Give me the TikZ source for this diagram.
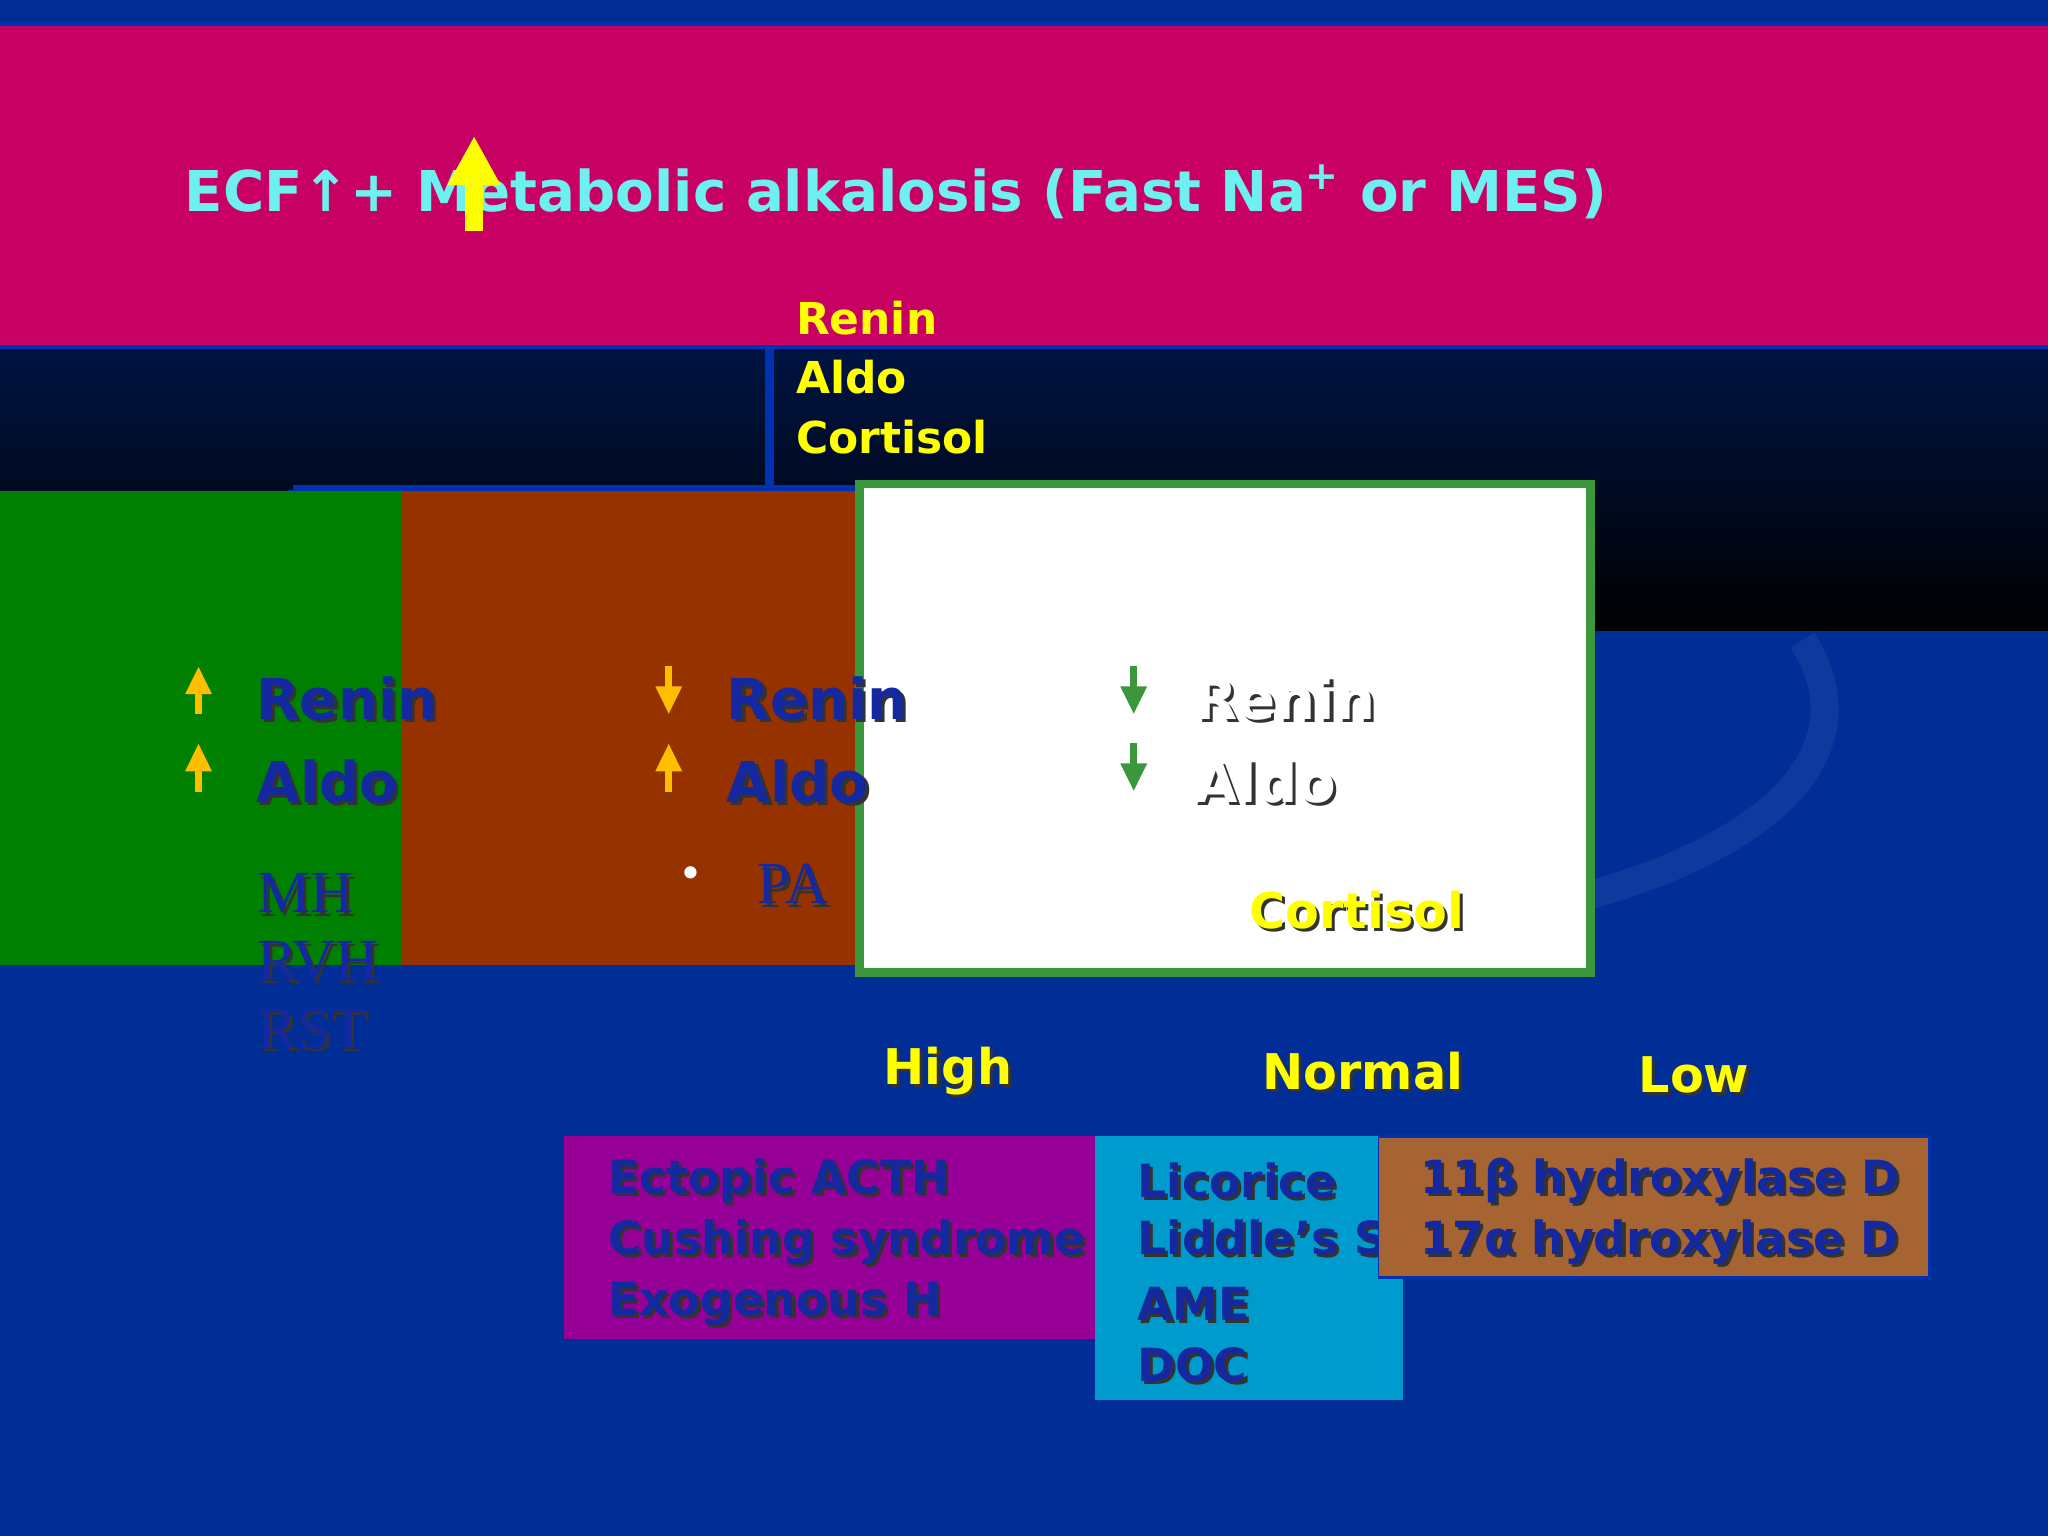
\documentclass[tikz,border=0pt]{standalone}
\usepackage{fontspec}
\usetikzlibrary{arrows.meta}
\setmainfont{DejaVu Sans}
\newfontfamily\serf{Liberation Serif}
\definecolor{bgblue}{RGB}{0,45,150}
\definecolor{lineblue}{RGB}{0,50,175}
\definecolor{ttl}{RGB}{200,0,100}
\definecolor{cyantxt}{RGB}{110,240,240}
\definecolor{ylw}{RGB}{255,255,0}
\definecolor{dkblue}{RGB}{20,40,160}
\definecolor{grn}{RGB}{0,128,0}
\definecolor{brn}{RGB}{150,50,0}
\definecolor{wgrn}{RGB}{60,150,60}
\definecolor{prp}{RGB}{150,0,150}
\definecolor{cyb}{RGB}{0,155,205}
\definecolor{tan}{RGB}{165,100,50}
\definecolor{arr}{RGB}{255,190,0}
\newcommand{\shtext}[5]{% name, pos, color, font, text
 \node[anchor=west,text=black!80,xshift=0.9pt,yshift=-0.9pt] at (#2) {#4 #5};
 \node[anchor=west,text=#3] (#1) at (#2) {#4 #5};}
\tikzset{ln/.style={draw=lineblue,line width=2.5pt},
 bx/.style={inner sep=0pt}}
\begin{document}
\begin{tikzpicture}[x=0.013061cm,y=-0.013061cm]
\useasboundingbox (0,0) rectangle (1568,1176);
\shade[top color=bgblue,bottom color=black] (0,0) rectangle (1568,483);
\fill[bgblue] (0,483) rectangle (1568,1176);
\draw[bgblue!80!white,line width=8pt,opacity=0.3] (1380,490) .. controls (1450,600) and (1300,700) .. (1000,720);
% lines
\coordinate (t) at (589,188); \coordinate (j) at (589,375);
\coordinate (jl) at (224,375); \coordinate (jr) at (937,375);
\draw[ln] (t) -- (589,490);
\draw[ln] (jl) -- (jr);
\draw[ln] (jl) -- (224,490);
\draw[ln] (jr) -- (937,490);
% title
\node[draw=lineblue,fill=ttl,minimum width=1312,minimum height=92,line width=1pt] (title) at (774,142) {};
\node[anchor=west,text=cyantxt,font=\bfseries\fontsize{16}{18}\selectfont] at (132,147) {ECF↑+ Metabolic alkalosis (Fast Na\textsuperscript{+} or MES)};
\draw[ylw,line width=5pt,-{Triangle[width=14pt,length=14pt]}] (363,177) -- (363,104);
% renin aldo cortisol
\node[anchor=west,text=ylw,font=\bfseries\fontsize{12.5}{14}\selectfont,align=left] (rac) at (600,289) {Renin\\[3pt]Aldo\\[3pt]Cortisol};
% boxes
\node[fill=grn,minimum width=203,minimum height=135,bx] (g) at (221.5,557.5) {};
\node[fill=brn,minimum width=204,minimum height=135,bx] (b) at (582,557.5) {};
\node[fill=white,draw=wgrn,line width=2.5pt,minimum width=208,minimum height=139,bx] (w) at (938,557.5) {};
\tikzset{ua/.style={line width=2pt,-{Triangle[width=7pt,length=8pt]}}}
\draw[ua,arr] (152,547) -- (152,510); \draw[ua,arr] (152,606) -- (152,569);
\draw[ua,arr] (512,510) -- (512,547); \draw[ua,arr] (512,606) -- (512,569);
\draw[ua,wgrn] (868,510) -- (868,547); \draw[ua,wgrn] (868,569) -- (868,606);
\shtext{g1}{172,535}{dkblue}{\bfseries\fontsize{16}{18}\selectfont}{Renin}
\shtext{g2}{172,598}{dkblue}{\bfseries\fontsize{16}{18}\selectfont}{Aldo}
\shtext{b1}{532,535}{dkblue}{\bfseries\fontsize{16}{18}\selectfont}{Renin}
\shtext{b2}{532,598}{dkblue}{\bfseries\fontsize{16}{18}\selectfont}{Aldo}
\shtext{w1}{890,535}{white}{\bfseries\fontsize{16}{18}\selectfont}{Renin}
\shtext{w2}{890,598}{white}{\bfseries\fontsize{16}{18}\selectfont}{Aldo}
% serif lists
\shtext{mh}{176,684}{dkblue}{\serf\fontsize{17}{18}\selectfont}{MH}
\shtext{rvh}{176,736}{dkblue}{\serf\fontsize{17}{18}\selectfont}{RVH}
\shtext{rst}{176,788}{dkblue}{\serf\fontsize{17}{18}\selectfont}{RST}
\node[text=white,font=\fontsize{12}{14}\selectfont] (bul) at (529,672) {•};
\shtext{pa}{559,677}{dkblue}{\serf\fontsize{17}{18}\selectfont}{PA}
% cortisol categories
\shtext{cort}{934,697}{ylw}{\bfseries\fontsize{14}{16}\selectfont}{Cortisol}
\shtext{hi}{654,820}{ylw}{\bfseries\fontsize{14}{16}\selectfont}{High}
\shtext{no}{944,820}{ylw}{\bfseries\fontsize{14}{16}\selectfont}{Normal}
\shtext{lo}{1232,823}{ylw}{\bfseries\fontsize{14}{16}\selectfont}{Low}
% bottom boxes
\fill[prp] (432,870) rectangle (838,1025);
\fill[cyb] (838,870) rectangle (1074,1072);
\fill[tan,draw=lineblue,line width=0.8pt] (1055,870) rectangle (1477,978);
\shtext{p1}{444,904}{dkblue}{\bfseries\fontsize{13}{15}\selectfont}{Ectopic ACTH}
\shtext{p2}{444,951}{dkblue}{\bfseries\fontsize{13}{15}\selectfont}{Cushing syndrome}
\shtext{p3}{444,998}{dkblue}{\bfseries\fontsize{13}{15}\selectfont}{Exogenous H}
\fill[cyb] (838,870) rectangle (1055,1072);
\shtext{c1}{849,904}{dkblue}{\bfseries\fontsize{13}{15}\selectfont}{Licorice}
\begin{scope}
\clip (838,920) rectangle (1055,980);
\shtext{c2}{849,951}{dkblue}{\bfseries\fontsize{13}{15}\selectfont}{Liddle's Syndrome}
\end{scope}
\shtext{c3}{849,998}{dkblue}{\bfseries\fontsize{13}{15}\selectfont}{AME}
\shtext{c4}{849,1045}{dkblue}{\bfseries\fontsize{13}{15}\selectfont}{DOC}
\shtext{t1}{1066,904}{dkblue}{\bfseries\fontsize{13}{15}\selectfont}{11β hydroxylase D}
\shtext{t2}{1066,951}{dkblue}{\bfseries\fontsize{13}{15}\selectfont}{17α hydroxylase D}
\end{tikzpicture}
\end{document}
